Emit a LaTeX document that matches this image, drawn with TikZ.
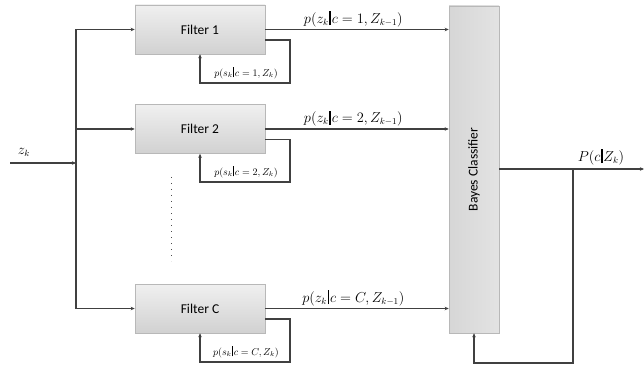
\documentclass[tikz,border=0pt]{standalone}
\usepackage{amsmath}
\usepackage{fontspec}
\setsansfont{Carlito}
\usetikzlibrary{arrows.meta}
\newcommand{\gbar}{\mathord{\mkern1mu\rule[-0.3ex]{0.11em}{2.4ex}\mkern1mu}}
\begin{document}
\begin{tikzpicture}[x=1pt,y=-1pt,
  boxbase/.style={draw=black!28, line width=0.6pt, inner sep=0pt, font=\sffamily\fontsize{13.5}{15}\selectfont},
  box/.style={boxbase, top color=black!6, bottom color=black!18},
  bbox/.style={boxbase, left color=black!16, right color=black!11},
  wire/.style={draw=black!75, line width=1.2pt},
  arr/.style={wire, -{Stealth[length=4pt,width=3.5pt]}},
  lbl/.style={font=\fontsize{13.5}{16}\selectfont, inner sep=1pt},
  slbl/.style={font=\fontsize{9.8}{11}\selectfont, inner sep=1pt}]
\useasboundingbox (0,0) rectangle (644,371);
% filters
\node[box, minimum width=130pt, minimum height=49pt] (f1) at (200,29.5) {Filter 1};
\node[box, minimum width=130pt, minimum height=49pt] (f2) at (200,129) {Filter 2};
\node[box, minimum width=130pt, minimum height=49pt] (fc) at (200,308.5) {Filter C};
\node[bbox, minimum width=50pt, minimum height=327pt] (bc) at (474,169.5) {};
\node[rotate=90, font=\sffamily\fontsize{13.5}{15}\selectfont] at (bc.center) {Bayes Classifier};
% input
\coordinate (in) at (10,163);
\coordinate (j) at (76,163);
\coordinate (jt) at (76,29.5);
\coordinate (jb) at (76,308.5);
\node[lbl] at (24,152) {$z_k$};
\draw[arr] (in) -- (j);
\draw[wire] (jt) -- (jb);
\draw[arr] (jt) -- (f1.west);
\draw[arr] (76,129) -- (f2.west);
\draw[arr] (jb) -- (fc.west);
% outputs to Bayes
\draw[arr] (f1.east) -- (f1.east -| bc.west) node[lbl, pos=0.48, above=1pt] {$p(z_k\gbar c=1,Z_{k-1})$};
\draw[arr] (f2.east) -- (f2.east -| bc.west) node[lbl, pos=0.48, above=1pt] {$p(z_k\gbar c=2,Z_{k-1})$};
\draw[arr] (fc.east) -- (fc.east -| bc.west) node[lbl, pos=0.48, above=1pt] {$p(z_k\gbar c=C,Z_{k-1})$};
% feedback loops
\draw[arr] ([yshift=-10.5pt]f1.east) -| (290,83) -| (200,83) -- (f1.south);
\draw[arr] ([yshift=-10.5pt]f2.east) -| (290,182) -| (200,182) -- (f2.south);
\draw[arr] ([yshift=-10.5pt]fc.east) -| (290,362) -| (200,362) -- (fc.south);
\node[slbl] at (246,73) {$p(s_k\gbar c=1,Z_k)$};
\node[slbl] at (246,172) {$p(s_k\gbar c=2,Z_k)$};
\node[slbl] at (246,352) {$p(s_k\gbar c=C,Z_k)$};
% dots
\draw[black!70, line width=1pt, dash pattern=on 1pt off 5pt] (171,177) -- (171,261);
% output
\coordinate (out) at (644,169);
\coordinate (sp) at (573,169);
\draw[arr] (bc.east |- sp) -- (out);
\node[lbl] at (601,157) {$P(c\gbar Z_k)$};
\draw[arr] (sp) -- (573,363) -- (474,363) -- (bc.south);
\end{tikzpicture}
\end{document}
